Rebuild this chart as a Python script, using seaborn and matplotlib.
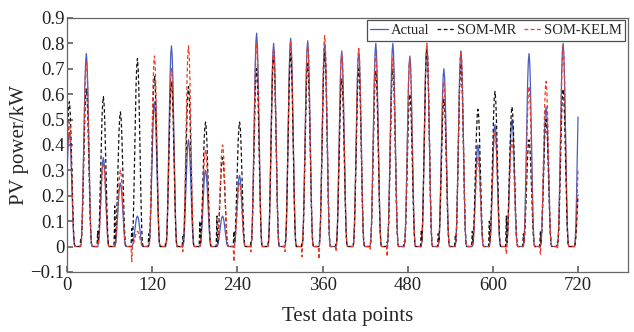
import numpy as np
import pandas as pd
import matplotlib
matplotlib.use("Agg")
import matplotlib.pyplot as plt
import seaborn as sns

# Daily peak values (one per day, day k peaks at point 3+24k)
actual_peaks = [0.45, 0.76, 0.35, 0.25, 0.12, 0.57, 0.79, 0.42, 0.30, 0.12,
                0.28, 0.84, 0.80, 0.82, 0.81, 0.80, 0.77, 0.77, 0.80, 0.80,
                0.75, 0.79, 0.70, 0.77, 0.40, 0.48, 0.50, 0.76, 0.55, 0.80, 0.75]
mr_peaks = [0.57, 0.62, 0.59, 0.53, 0.74, 0.67, 0.65, 0.63, 0.49, 0.35,
            0.49, 0.70, 0.75, 0.76, 0.72, 0.76, 0.66, 0.70, 0.69, 0.70,
            0.60, 0.78, 0.58, 0.72, 0.54, 0.61, 0.55, 0.42, 0.50, 0.62, 0.30]
kelm_peaks = [0.49, 0.73, 0.33, 0.30, 0.06, 0.75, 0.70, 0.79, 0.38, 0.40,
              0.25, 0.80, 0.78, 0.81, 0.80, 0.83, 0.76, 0.78, 0.76, 0.74,
              0.74, 0.80, 0.65, 0.77, 0.35, 0.45, 0.42, 0.63, 0.65, 0.79, 0.45]
# Night-time residuals just before each day's rise
mr_night = [0.00, 0.03, 0.06, 0.16, 0.07, 0.05, 0.02, 0.04, 0.10, 0.12,
            0.06, 0.02, 0.01, 0.01, 0.02, 0.01, 0.01, 0.00, 0.01, 0.02,
            0.02, 0.06, 0.05, 0.04, 0.06, 0.10, 0.12, 0.05, 0.06, 0.02, 0.00]
kelm_night = [0.00, 0.00, 0.00, 0.00, -0.06, 0.00, 0.00, -0.02, 0.00, 0.00,
              -0.06, -0.02, 0.00, -0.02, -0.04, -0.05, -0.02, 0.00, -0.01, -0.04,
              0.00, 0.00, 0.00, 0.00, 0.00, 0.00, -0.03, 0.00, -0.03, -0.01, 0.00]
# Normalised daily shape, offsets -12..11 hours around the peak
day_shape = [0, 0, 0, 0, 0, 0.03, 0.12, 0.28, 0.48, 0.68, 0.85, 0.96,
             1.0, 0.95, 0.83, 0.65, 0.45, 0.25, 0.10, 0.02, 0, 0, 0, 0]

x = np.arange(0, 721)

def build(peaks, night):
    out = np.zeros(len(x))
    for i, xi in enumerate(x):
        k = int(np.floor((xi - 3 + 12) / 24))
        d = xi - (3 + 24 * k)
        v = peaks[k] * day_shape[d + 12]
        if night is not None and d == -8:
            v += night[k]
        out[i] = v
    return out

df = pd.DataFrame({
    "point": np.concatenate([x, x, x]),
    "power": np.concatenate([build(actual_peaks, None),
                             build(mr_peaks, mr_night),
                             build(kelm_peaks, kelm_night)]),
    "series": ["Actual"] * len(x) + ["SOM-MR"] * len(x) + ["SOM-KELM"] * len(x),
})

sns.set_theme(style="white")
plt.rcParams["font.family"] = ["Liberation Serif", "DejaVu Serif"]

fig = plt.figure(figsize=(6.34, 3.32), dpi=100)
ax = fig.add_axes([0.106, 0.181, 0.884, 0.765])

styles = {"Actual": ("#4a5cc0", "-"), "SOM-MR": ("#111111", "--"), "SOM-KELM": ("#ee3b24", "--")}
for name in ["Actual", "SOM-MR", "SOM-KELM"]:
    c, ls = styles[name]
    sns.lineplot(data=df[df.series == name], x="point", y="power", ax=ax,
                 color=c, linewidth=0.9, label=name)
    ax.lines[-1].set_linestyle(ls)
    if ls == "--":
        ax.lines[-1].set_dashes((3, 2))

ax.set_xlim(0, 790)
ax.set_ylim(-0.1, 0.9)
ax.set_xticks([0, 120, 240, 360, 480, 600, 720])
ax.set_yticks(np.round(np.arange(-0.1, 0.91, 0.1), 1))
ax.set_yticklabels(["\u22120.1", "0", "0.1", "0.2", "0.3", "0.4", "0.5", "0.6", "0.7", "0.8", "0.9"])
ax.tick_params(direction="in", length=4, labelsize=13.5, colors="#222222", pad=2,
               left=True, bottom=True, color="#666666")
ax.tick_params(axis="x", pad=4)
ax.set_xlabel("Test data points", fontsize=15, labelpad=9)
ax.set_ylabel("PV power/kW", fontsize=15, labelpad=1)
for s in ax.spines.values():
    s.set_color("#666666")
    s.set_linewidth(0.9)

leg = ax.legend(loc="upper right", ncol=3, fontsize=10.5, frameon=True, fancybox=False,
                handlelength=1.2, handletextpad=0.2, columnspacing=0.5,
                borderpad=0.25, borderaxespad=0.15)
leg.get_frame().set_edgecolor("#222222")
leg.get_frame().set_linewidth(0.9)
for h in leg.get_lines():
    h.set_linewidth(0.9)

fig.savefig("out.png", dpi=100)
